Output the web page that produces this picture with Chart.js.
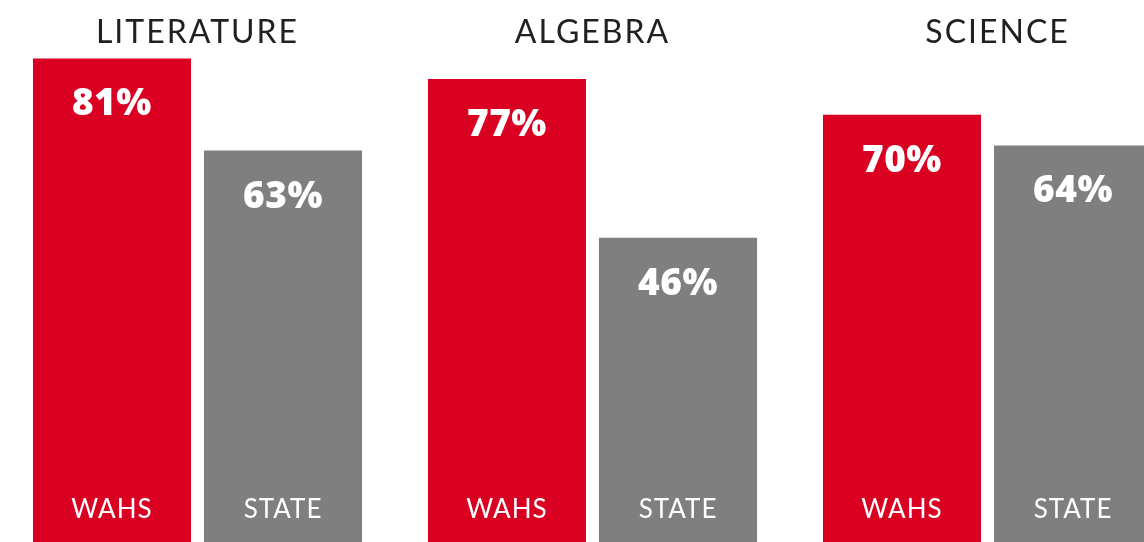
<!DOCTYPE html>
<html>
<head>
<meta charset="utf-8">
<script src="https://cdn.jsdelivr.net/npm/chart.js@4"></script>
<style>
  html, body { margin: 0; padding: 0; background: #ffffff; overflow: hidden; width: 1144px; height: 542px; }
  #wrap { position: relative; width: 1185px; height: 542px; }
</style>
</head>
<body>
<div id="wrap"><canvas id="c" width="1185" height="542"></canvas></div>
<script>
// ---- data ----
const subjects = ["LITERATURE", "ALGEBRA", "SCIENCE"];
const seriesNames = ["WAHS", "STATE"];
const wahsValues = [81, 77, 70];
const stateValues = [63, 46, 64];
const seriesColors = ["#d90021", "#7f7f7f"];
const axisMin = -13.4;
const axisMax = 92.4;

const labelPlugin = {
  id: "labels",
  afterDatasetsDraw(chart) {
    const ctx = chart.ctx;
    const x = chart.scales.x;
    ctx.save();
    // subject titles
    ctx.fillStyle = "#231f20";
    ctx.font = "400 32px Lato";
    ctx.letterSpacing = "2px";
    ctx.textAlign = "center";
    ctx.textBaseline = "alphabetic";
    subjects.forEach((s, i) => {
      ctx.fillText(s, x.getPixelForValue(i) + (i === 2 ? 10 : 0), 43);
    });
    // values and series names inside bars
    chart.data.datasets.forEach((ds, di) => {
      const meta = chart.getDatasetMeta(di);
      meta.data.forEach((bar, i) => {
        ctx.fillStyle = "#ffffff";
        ctx.letterSpacing = "0.5px";
        ctx.font = "800 37px 'Open Sans'";
        ctx.textAlign = "center";
        ctx.fillText(ds.data[i] + "%", bar.x, bar.y + 57);
        ctx.font = "400 26px Lato";
        ctx.letterSpacing = "1px";
        ctx.fillText(ds.label, bar.x, 518);
      });
    });
    ctx.restore();
  }
};

new Chart(document.getElementById("c"), {
  type: "bar",
  data: {
    labels: subjects,
    datasets: [
      { label: seriesNames[0], data: wahsValues, backgroundColor: seriesColors[0], borderWidth: 0, base: axisMin },
      { label: seriesNames[1], data: stateValues, backgroundColor: seriesColors[1], borderWidth: 0, base: axisMin }
    ]
  },
  options: {
    responsive: false,
    animation: false,
    layout: { padding: 0 },
    categoryPercentage: 0.866,
    barPercentage: 0.924,
    plugins: { legend: { display: false }, tooltip: { enabled: false } },
    scales: {
      x: { display: false },
      y: { display: false, min: axisMin, max: axisMax }
    }
  },
  plugins: [labelPlugin]
});
</script>
</body>
</html>
